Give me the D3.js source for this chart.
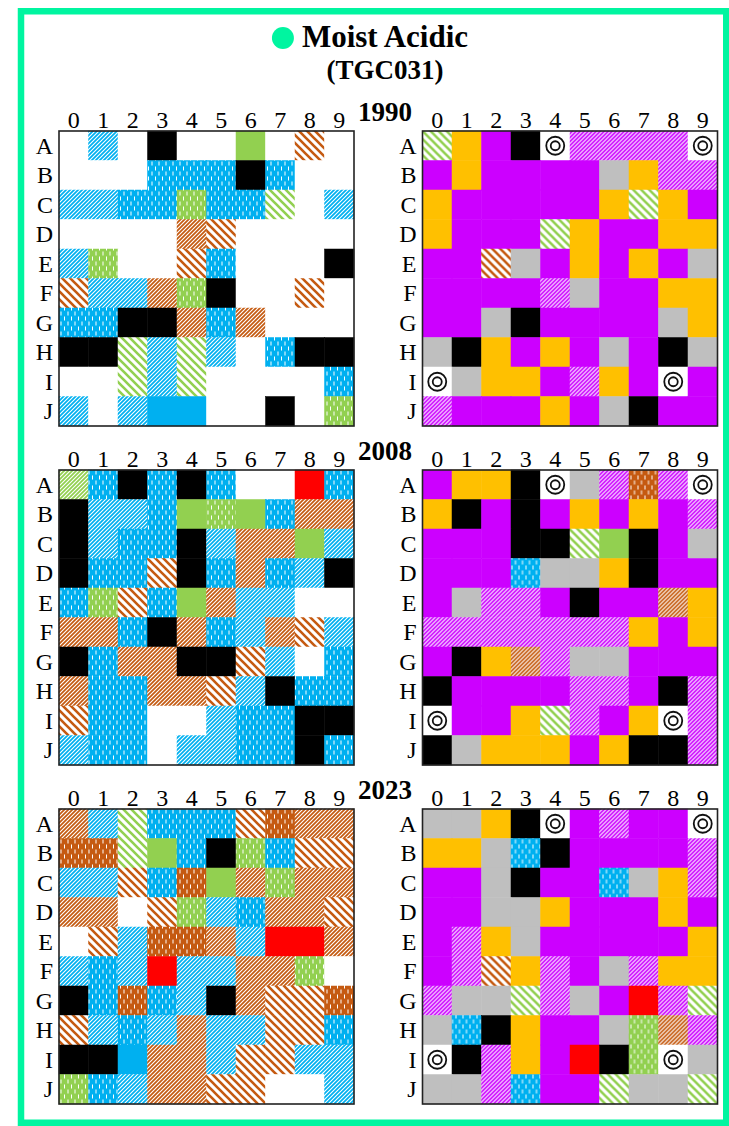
<!DOCTYPE html>
<html><head><meta charset="utf-8">
<script src="https://cdn.jsdelivr.net/npm/d3@7"></script>
<style>body{margin:0;background:#fff}svg{display:block}</style>
</head><body>
<svg id="chart" width="729" height="1126"></svg>
<script>
// ---- data ----
const titleText = "Moist Acidic";
const subtitleText = "(TGC031)";
const rowLabels = ["A","B","C","D","E","F","G","H","I","J"];
const colLabels = ["0","1","2","3","4","5","6","7","8","9"];
const years = ["1990","2008","2023"];
// codes: W white, K black, B blue, G green, R red, O orange, P purple, Y gray (solid)
// two-letter: colour (b,g,n,p) + pattern (f fine hatch, d dashes, w wide stripes); X bullseye
const grid1990Left = [
  "W bf W K W W G W nw W",
  "W W W bd bd bd K bd W W",
  "bf bf bd bd gd bd bd gw W bf",
  "W W W W nf nw W W W W",
  "bf gd W W nw bd W W W K",
  "nw bf bf nf gd K W W nw W",
  "bd bd K K nf bd nf W W W",
  "K K gw bf gw bf W bd K K",
  "W W gw bf gw W W W W bd",
  "bf W bf B B W W K W gd"
];
const grid1990Right = [
  "gw O P K X pf pf pf pf X",
  "P O P P P P Y O pf pf",
  "O P P P P P O gw O P",
  "O P P P gw O P P O O",
  "P P nw Y P O P O P Y",
  "P P P P pf Y P P O O",
  "P P Y K P P P P Y O",
  "Y K O P O P Y P K Y",
  "X Y O O P pf O P X P",
  "pf P P P O P Y K P P"
];
const grid2008Left = [
  "gf bd K bd K bd W W R bd",
  "K bf bf bd G gd G bd nf nf",
  "K bf bd bd K bf nf nf G bf",
  "K bd bd nw K bd nf bd bf K",
  "bd gd nw bd G nf bf bf W W",
  "nf nf bd K nf bd bf nf nw bf",
  "K bd nf nf K K nw bf W bd",
  "nf bd bd nf nf nw bf K bd bd",
  "nw bd bd W W bf bd bd K K",
  "bf bd bd W bf bf bd bd K bd"
];
const grid2008Right = [
  "P O O K X Y pf nd pf X",
  "O K P K P O P O P pf",
  "P P P K K gw G K P Y",
  "P P P bd Y Y O K P P",
  "P Y pf pf P K P P nf O",
  "pf pf pf pf pf pf pf O P O",
  "P K O nf pf Y Y P P P",
  "K P P P P pf pf P K pf",
  "X P P O gw pf P O X pf",
  "K Y O O O P O K K pf"
];
const grid2023Left = [
  "nf bf gw bd bd bd nw nd nf nf",
  "nd nd gw G bd K gd bd nw nw",
  "bf bf nw bd nd G nf gd nf nf",
  "nf nf W nw gd bf bd nf nf nw",
  "W nw bf nd nd nf bf R R nf",
  "bf bd bf R bf bf nf nf gd W",
  "K bd nd bd bf K nf nw nw nd",
  "nw bf bd bf nf bf bf nw nw bd",
  "K K B nf nf bf nw nw bf bf",
  "gd bd bf nf nf nw nw W W bf"
];
const grid2023Right = [
  "Y Y O K X P pf P P X",
  "O O Y bd K P P P P pf",
  "P P Y K P P bd Y O pf",
  "P P Y Y O P P P O P",
  "P pf O Y P P P P P O",
  "P pf nw O pf P Y pf O O",
  "pf Y Y gw pf Y P R pf gw",
  "Y bd K O P P Y gd nf pf",
  "X K pf O P R K gd X Y",
  "Y Y pf bd P P gw Y Y gw"
];
const panelGrids = [[grid1990Left, grid1990Right],[grid2008Left, grid2008Right],[grid2023Left, grid2023Right]];

// ---- styles ----
const palette = {w:"#ffffff", k:"#000000", b:"#00b0f0", g:"#92d050", r:"#ff0000", o:"#ffc000", p:"#cc00ff", y:"#bfbfbf", n:"#c55a11"};
const frameColor = "#00f5a0";
const serif = "'Liberation Serif','Times New Roman',serif";

const svg = d3.select("#chart");
const defs = svg.append("defs");

// patterns
const usedCodes = new Set();
panelGrids.flat().forEach(g => g.forEach(r => r.split(" ").forEach(c => { if (c.length === 2) usedCodes.add(c); })));
usedCodes.forEach(code => {
  const col = palette[code[0]], kind = code[1];
  let p;
  if (kind === "f") {
    p = defs.append("pattern").attr("id","pat-"+code).attr("patternUnits","userSpaceOnUse").attr("width",4).attr("height",4);
    p.append("rect").attr("width",4).attr("height",4).attr("fill",col);
    p.append("path").attr("d","M-1,1 L1,-1 M0,4 L4,0 M3,5 L5,3").attr("stroke","#fff").attr("stroke-width",1.1);
  } else if (kind === "w") {
    p = defs.append("pattern").attr("id","pat-"+code).attr("patternUnits","userSpaceOnUse").attr("width",8).attr("height",8);
    p.append("rect").attr("width",8).attr("height",8).attr("fill","#fff");
    p.append("path").attr("d","M-2,-2 L10,10 M-2,6 L2,10 M6,-2 L10,2").attr("stroke",col).attr("stroke-width",2.6);
  } else if (kind === "d") {
    p = defs.append("pattern").attr("id","pat-"+code).attr("patternUnits","userSpaceOnUse").attr("width",7).attr("height",10);
    p.append("rect").attr("width",7).attr("height",10).attr("fill",col);
    p.append("rect").attr("x",1.5).attr("y",0.5).attr("width",1).attr("height",4).attr("fill","#fff");
    p.append("rect").attr("x",5).attr("y",5.5).attr("width",1).attr("height",4).attr("fill","#fff");
  }
});

function fillFor(code) {
  if (code === "X") return "#ffffff";
  if (code.length === 1) return palette[code.toLowerCase()];
  return "url(#pat-" + code + ")";
}

// frame
svg.append("rect").attr("x",21).attr("y",11.25).attr("width",705.25).attr("height",1111.5)
  .attr("fill","none").attr("stroke",frameColor).attr("stroke-width",6.5);

// title
const title = svg.append("text").attr("x",385).attr("y",47).attr("text-anchor","middle")
  .attr("font-family",serif).attr("font-weight","bold").attr("font-size",31).text(titleText);
const tw = title.node().getComputedTextLength();
svg.append("circle").attr("cx",385 - tw/2 - 19).attr("cy",38).attr("r",11).attr("fill",frameColor);
svg.append("text").attr("x",385).attr("y",79).attr("text-anchor","middle")
  .attr("font-family",serif).attr("font-weight","bold").attr("font-size",27).text(subtitleText);

// layout
const gridSize = 295;
const gridX = [59, 422.5];
const panelTop = [131, 470, 809];
const x = d3.scaleBand().domain(colLabels).range([0, gridSize]);
const y = d3.scaleBand().domain(rowLabels).range([0, gridSize]);

panelGrids.forEach((pair, pi) => {
  svg.append("text").attr("x",385).attr("y",panelTop[pi] - 10).attr("text-anchor","middle")
    .attr("font-family",serif).attr("font-weight","bold").attr("font-size",27).text(years[pi]);
  pair.forEach((grid, si) => {
    const g = svg.append("g").attr("transform",`translate(${gridX[si]},${panelTop[pi]})`);
    const cells = [];
    grid.forEach((rowStr, ri) => rowStr.split(" ").forEach((code, ci) => cells.push({row: rowLabels[ri], col: colLabels[ci], code})));
    g.selectAll("rect.cell").data(cells).join("rect").attr("class","cell")
      .attr("x", d => x(d.col)).attr("y", d => y(d.row))
      .attr("width", x.bandwidth()).attr("height", y.bandwidth())
      .attr("fill", d => fillFor(d.code))
      .attr("stroke", d => fillFor(d.code)).attr("stroke-width", 0.5);
    const eyes = cells.filter(d => d.code === "X");
    [9, 4.5].forEach(r => {
      g.selectAll(null).data(eyes).join("circle")
        .attr("cx", d => x(d.col) + x.bandwidth()/2).attr("cy", d => y(d.row) + y.bandwidth()/2)
        .attr("r", r).attr("fill","none").attr("stroke","#111").attr("stroke-width",1.8);
    });
    g.append("rect").attr("width",gridSize).attr("height",gridSize).attr("fill","none")
      .attr("stroke","#222").attr("stroke-width",1.6);
    // column labels
    const ax = d3.axisTop(x).tickSize(0).tickPadding(3);
    const axG = g.append("g").call(ax);
    axG.select(".domain").remove();
    axG.selectAll("text").attr("font-family",serif).attr("font-size",24).attr("fill","#000");
    // row labels
    g.selectAll("text.rl").data(rowLabels).join("text").attr("class","rl")
      .attr("x",-6).attr("y", d => y(d) + y.bandwidth()/2 + 8).attr("text-anchor","end")
      .attr("font-family",serif).attr("font-size",24).text(d => d);
  });
});
</script>
</body></html>
